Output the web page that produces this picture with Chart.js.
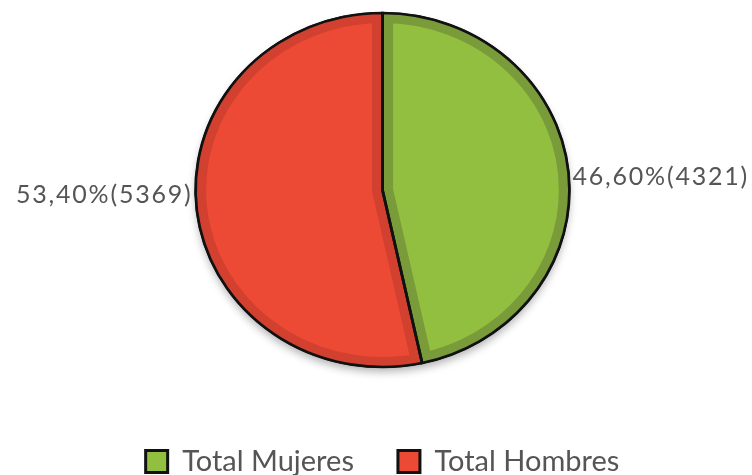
<!DOCTYPE html>
<html>
<head>
<meta charset="utf-8">
<script src="https://cdn.jsdelivr.net/npm/chart.js@4.4.1/dist/chart.umd.min.js"></script>
<style>
  html, body { margin: 0; padding: 0; background: #fff; }
  #wrap { width: 752px; height: 475px; position: relative; }
</style>
</head>
<body>
<div id="wrap"><canvas id="myChart"></canvas></div>
<script>
const categories = ['Total Mujeres', 'Total Hombres'];
const percentValues = [46.6, 53.4];
const counts = [4321, 5369];

const fillColors = ['#92bf3f', '#ec4a34'];
const rimColors = ['#7a9b3a', '#d2402f'];

// the original pie is a little wider than tall
const stretchX = 1.056;

function slicePath(ctx, arc) {
  ctx.beginPath();
  ctx.moveTo(arc.x, arc.y);
  ctx.arc(arc.x, arc.y, arc.outerRadius, arc.startAngle, arc.endAngle);
  ctx.closePath();
}

// stretch, shadow, darker inner rim and black outline
const pieLook = {
  id: 'pieLook',
  beforeDatasetsDraw(chart) {
    const arc = chart.getDatasetMeta(0).data[0];
    const ctx = chart.ctx;
    ctx.save();
    if (!arc) return;
    ctx.translate(arc.x, arc.y);
    ctx.scale(stretchX, 1);
    ctx.translate(-arc.x, -arc.y);
    ctx.save();
    ctx.shadowColor = 'rgba(0,0,0,0.3)';
    ctx.shadowBlur = 8;
    ctx.shadowOffsetY = 5;
    ctx.fillStyle = '#fff';
    ctx.beginPath();
    ctx.arc(arc.x, arc.y, arc.outerRadius, 0, Math.PI * 2);
    ctx.fill();
    ctx.restore();
  },
  afterDatasetsDraw(chart) {
    const ctx = chart.ctx;
    const arcs = chart.getDatasetMeta(0).data;
    arcs.forEach((arc, i) => {
      ctx.save();
      slicePath(ctx, arc);
      ctx.clip();
      ctx.lineJoin = 'round';
      ctx.lineWidth = 20;
      ctx.strokeStyle = rimColors[i];
      ctx.stroke();
      ctx.restore();
    });
    arcs.forEach((arc) => {
      ctx.save();
      slicePath(ctx, arc);
      ctx.lineWidth = 2.6;
      ctx.strokeStyle = '#111';
      ctx.stroke();
      ctx.restore();
    });
    ctx.restore();
  }
};

// percent (count) labels beside the slices
const sliceLabels = {
  id: 'sliceLabels',
  afterDraw(chart) {
    const ctx = chart.ctx;
    chart.getDatasetMeta(0).data.forEach((arc, i) => {
      const mid = (arc.startAngle + arc.endAngle) / 2;
      const dx = Math.cos(mid), dy = Math.sin(mid);
      const text = percentValues[i].toFixed(2).replace('.', ',') + '%(' + counts[i] + ')';
      ctx.save();
      ctx.font = '25px Lato';
      ctx.letterSpacing = '1.8px';
      ctx.fillStyle = '#555';
      ctx.textBaseline = 'middle';
      ctx.textAlign = dx >= 0 ? 'left' : 'right';
      const x = arc.x + Math.sign(dx) * (arc.outerRadius * stretchX + 3);
      const y = arc.y + dy * arc.outerRadius * 0.5 - 4;
      ctx.fillText(text, x, y);
      ctx.restore();
    });
  }
};

// fixed legend band height so the pie keeps its place
const legendBand = {
  id: 'legendBand',
  beforeInit(chart) {
    chart.ctx.letterSpacing = '1px';
    const fit = chart.legend.fit;
    chart.legend.fit = function () {
      fit.call(this);
      this.height = 95;
    };
  }
};

const data = {
  labels: categories,
  datasets: [{
    data: percentValues,
    backgroundColor: fillColors,
    borderColor: '#111',
    borderWidth: 2,
    radius: 177
  }]
};

const config = {
  type: 'pie',
  data,
  options: {
    responsive: true,
    maintainAspectRatio: false,
    animation: false,
    layout: { padding: { left: 13, right: 0, top: 0, bottom: 0 } },
    plugins: {
      tooltip: { enabled: false },
      legend: {
        position: 'bottom',
        title: {
          display: true,
          text: '',
          font: { size: 1, lineHeight: 1 },
          padding: { top: 22, bottom: 0 }
        },
        labels: {
          boxWidth: 22,
          boxHeight: 22,
          padding: 44,
          color: '#555',
          font: { family: 'Lato', size: 29 },
          generateLabels(chart) {
            return Chart.overrides.pie.plugins.legend.labels.generateLabels(chart)
              .map(item => Object.assign(item, { lineWidth: 3, strokeStyle: '#111' }));
          }
        }
      }
    }
  },
  plugins: [legendBand, pieLook, sliceLabels]
};

const myChart = new Chart(document.getElementById('myChart'), config);
</script>
</body>
</html>
